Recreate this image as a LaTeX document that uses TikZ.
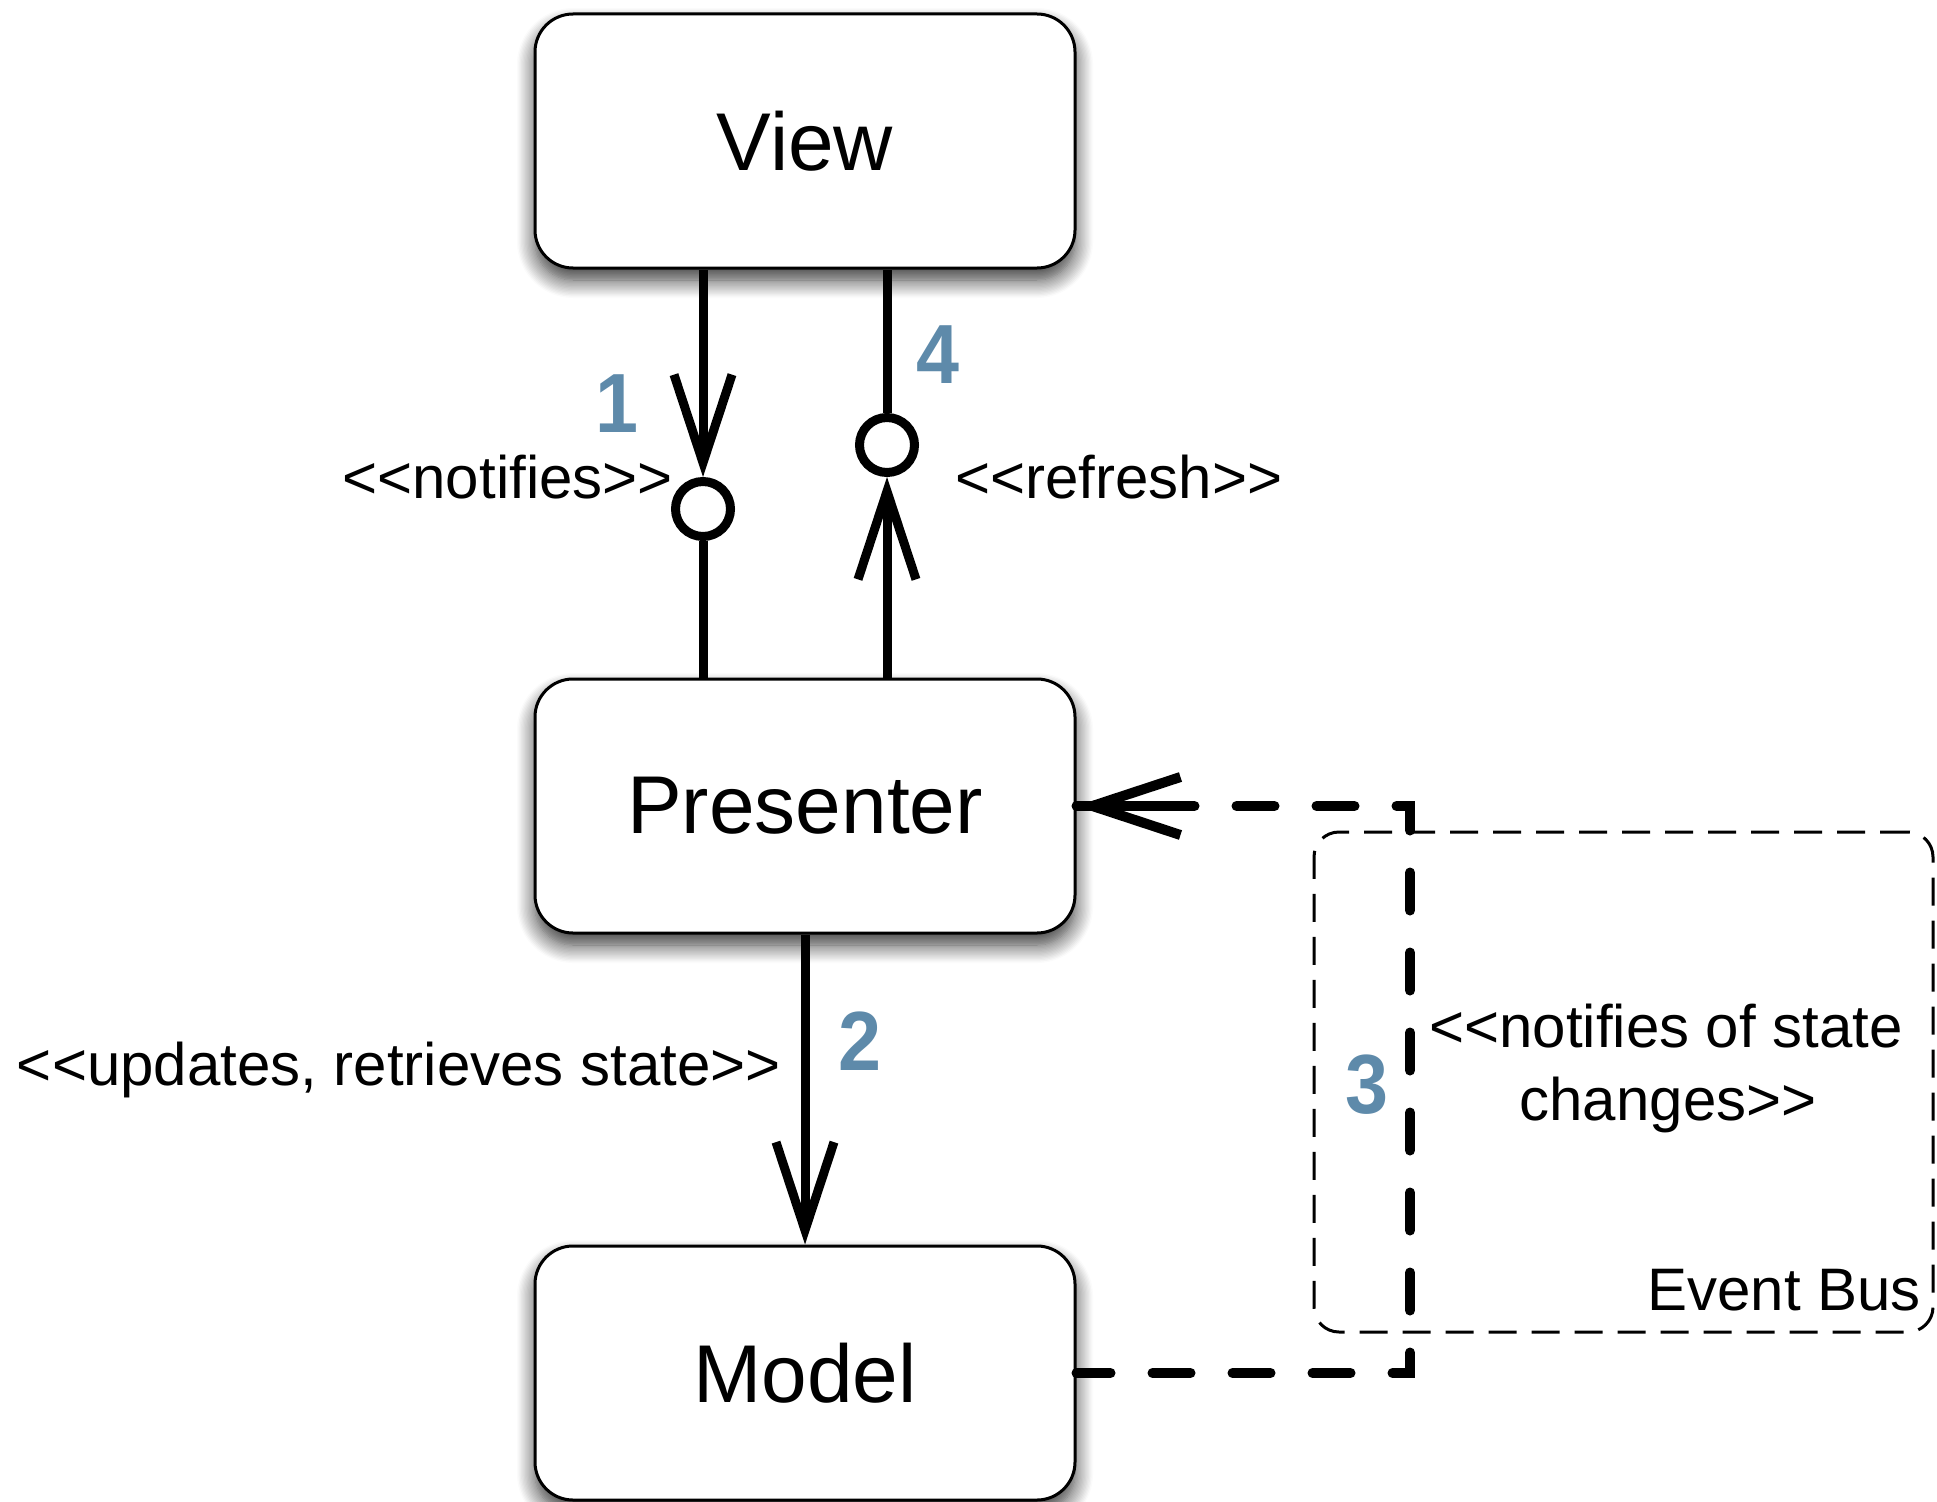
\documentclass[tikz,border=0pt]{standalone}
\usepackage{fontspec}
\usetikzlibrary{arrows.meta,shadows.blur,calc}
\newfontfamily\lblfont{Liberation Sans}
\newfontfamily\numfont[FakeStretch=0.92]{Liberation Sans Bold}
\definecolor{numblue}{RGB}{94,138,170}
\tikzset{
  box/.style={draw, line width=3pt, rounded corners=38pt, fill=white,
    minimum width=540pt, minimum height=254pt, inner sep=0pt,
    font=\lblfont\fontsize{82}{98}\selectfont,
    blur shadow={shadow xshift=0pt, shadow yshift=-12pt, shadow blur radius=18pt, shadow opacity=80, shadow blur steps=14}},
  port/.style={draw, circle, line width=9pt, minimum size=55pt, inner sep=0pt},
  conn/.style={line width=9pt},
  dconn/.style={line width=10pt, line cap=round, dash pattern=on 38pt off 42pt, dash phase=4pt},
  openhead/.style={-{Straight Barb[length=88pt,width=58pt,line cap=butt]}},
  busbox/.style={draw, line width=3pt, dash pattern=on 28pt off 15pt, rounded corners=25pt,
    minimum width=619pt, minimum height=500pt, inner sep=0pt},
  lbl/.style={font=\lblfont\fontsize{60}{72}\selectfont, inner sep=0pt},
  num/.style={font=\numfont\fontsize{84}{90}\selectfont, text=numblue, inner sep=0pt}
}
\begin{document}
\begin{tikzpicture}[x=1pt,y=-1pt]
\useasboundingbox (0,0) rectangle (1937,1501);
% boxes
\node[box] (view) at (805,141) {View};
\node[box] (presenter) at (805,806) {Presenter};
\node[box] (model) at (805,1373) {Model};
% event bus
\node[busbox] (bus) at (1623.5,1082) {};
\node[lbl, anchor=base east] (buslbl) at (1921,1310) {Event Bus};
% ports
\node[port] (c1) at (703,509) {};
\node[port] (c4) at (887,445) {};
\coordinate (turn) at (1410,1373);
\coordinate (headback) at ($(presenter.east)+(115,0)$);
% connectors
\draw[conn, openhead] (view.south -| c1) -- (c1.north);
\draw[conn] (c1.south) -- (presenter.north -| c1);
\draw[conn, openhead] (presenter.north -| c4) -- (c4.south);
\draw[conn] (c4.north) -- (view.south -| c4);
\draw[conn, openhead] (presenter.south) -- (model.north);
\draw[dconn] (model.east) -- (turn) |- (presenter.east);
\draw[line width=10pt, line cap=round, openhead] (headback) -- (presenter.east);
% labels
\node[lbl, anchor=base east] (l1) at (673,498) {<<notifies>>};
\node[lbl, anchor=base west] (l4) at (955,498) {<<refresh>>};
\node[lbl, anchor=base east] (l2) at (781,1085) {<<updates, retrieves state>>};
\node[lbl, anchor=base] (l3a) at (1666,1047) {<<notifies of state};
\node[lbl, anchor=base] (l3b) at (1668,1120) {changes>>};
% numbers
\node[num, anchor=base] (n1) at (617,432) {1};
\node[num, anchor=base] (n4) at (938,383) {4};
\node[num, anchor=base] (n2) at (860,1070) {2};
\node[num, anchor=base] (n3) at (1367,1113) {3};
\end{tikzpicture}
\end{document}
